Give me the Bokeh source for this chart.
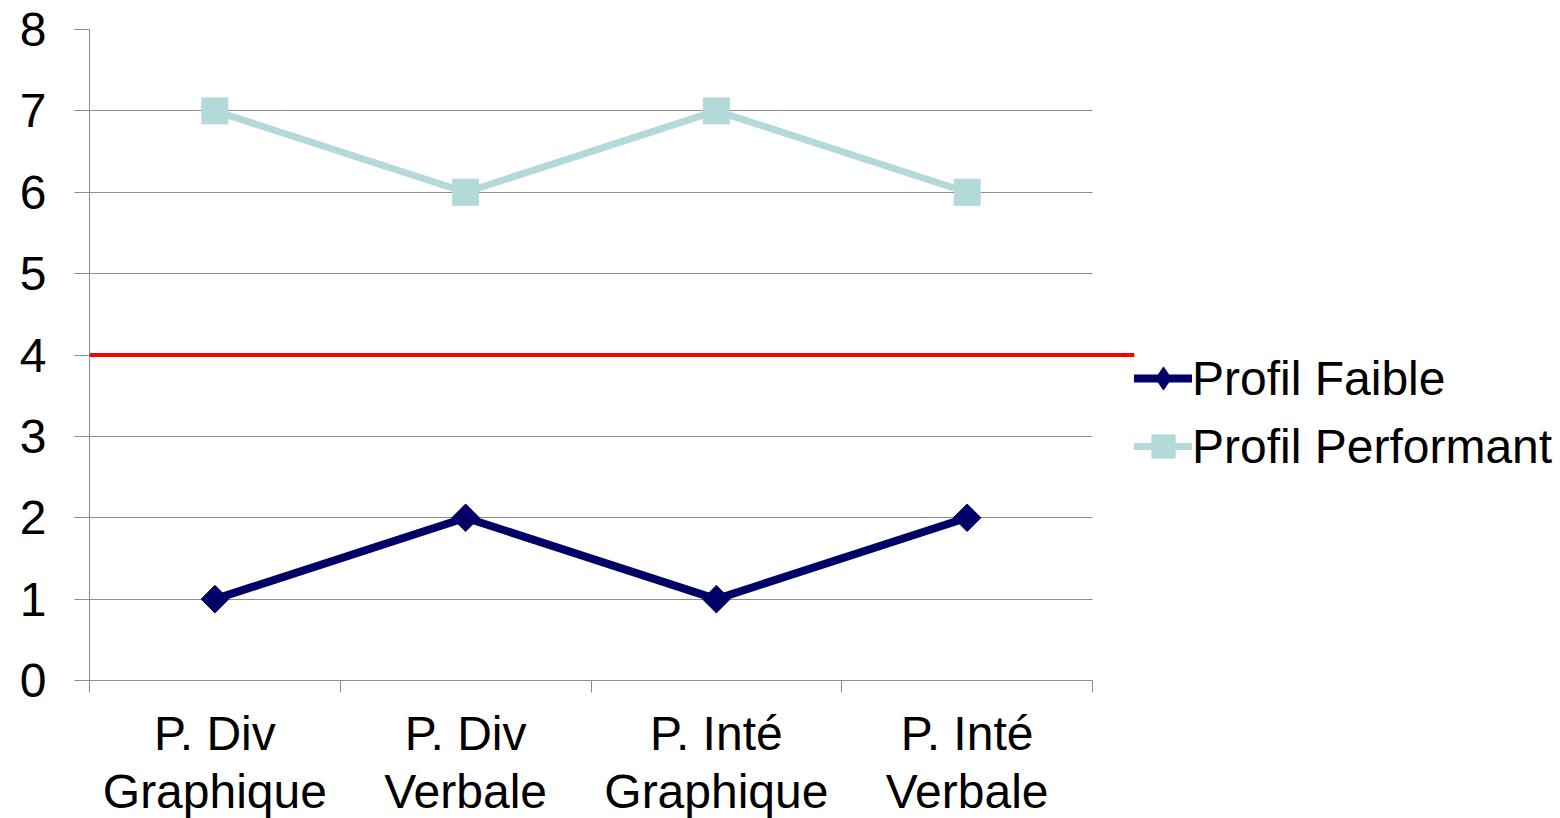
import math
from bokeh.plotting import figure
from bokeh.models import Range1d, FixedTicker, Span, BoxAnnotation, Legend, LegendItem
from bokeh.embed import file_html
from bokeh.resources import INLINE

# ---- data ----
categories = ["P. Div\nGraphique", "P. Div\nVerbale", "P. Inté\nGraphique", "P. Inté\nVerbale"]
profil_faible = [1, 2, 1, 2]
profil_performant = [7, 6, 7, 6]
threshold = 4
y_ticks = [0, 1, 2, 3, 4, 5, 6, 7, 8]
series_names = ["Profil Faible", "Profil Performant"]

# ---- styling ----
NAVY = "#000066"
TEAL = "#b3d9d9"
GRID = "#8c8c8c"
FONT = "Liberation Sans"
FS = "48px"

n = len(categories)
xs = [i + 0.5 for i in range(n)]

FRAME_W = 1045
FRAME_H = 651
CAT_W = 1003  # width of the categorical area in px

p = figure(
    frame_width=FRAME_W, frame_height=FRAME_H,
    x_range=Range1d(0, n * FRAME_W / CAT_W), y_range=Range1d(y_ticks[0], y_ticks[-1]),
    output_backend="svg", toolbar_location=None,
    min_border_left=89, min_border_top=29, min_border_bottom=110, min_border_right=0,
    background_fill_color="white", border_fill_color="white",
)
p.outline_line_color = None

# grid
p.xgrid.visible = False
p.ygrid.ticker = FixedTicker(ticks=y_ticks)
p.ygrid.grid_line_color = GRID
p.ygrid.grid_line_width = 1

# cover grid beyond the last category
cover = BoxAnnotation(left=n, fill_color="white", fill_alpha=1.0, line_alpha=0, level="underlay")
p.add_layout(cover)

# y axis
ya = p.yaxis[0]
ya.ticker = FixedTicker(ticks=y_ticks)
ya.axis_line_color = GRID
ya.major_tick_line_color = GRID
ya.major_tick_out = 15
ya.major_tick_in = 0
ya.minor_tick_line_color = None
ya.major_label_text_font = FONT
ya.major_label_text_font_size = FS
ya.major_label_text_color = "black"
ya.major_label_standoff = 28

# x axis
xa = p.xaxis[0]
xa.ticker = FixedTicker(ticks=xs, minor_ticks=list(range(n + 1)))
xa.bounds = (0, n)
xa.axis_line_color = GRID
xa.major_tick_out = 0
xa.major_tick_in = 0
xa.major_tick_line_color = None
xa.minor_tick_out = 12
xa.minor_tick_in = 0
xa.minor_tick_line_color = GRID
xa.major_label_overrides = {x: c for x, c in zip(xs, categories)}
xa.major_label_text_font = FONT
xa.major_label_text_font_size = FS
xa.major_label_text_color = "black"
xa.major_label_text_line_height = 1.1
xa.major_label_standoff = 14

# threshold line
p.add_layout(Span(location=threshold, dimension="width", line_color="#ff0000", line_width=4))

# series
lf = p.line(xs, profil_faible, line_color=NAVY, line_width=8, line_cap="round", line_join="round")
df = p.scatter(xs, profil_faible, marker="diamond", size=19, fill_color=NAVY, line_color=NAVY)
mf = p.scatter(xs, profil_faible, marker="square", angle=math.pi / 4, size=19.5,
               fill_color=NAVY, line_color=NAVY)
lp = p.line(xs, profil_performant, line_color=TEAL, line_width=7, line_cap="round", line_join="round")
mp = p.scatter(xs, profil_performant, marker="square", size=26, fill_color=TEAL, line_color=TEAL)

legend = Legend(
    items=[LegendItem(label=series_names[0], renderers=[lf, df]),
           LegendItem(label=series_names[1], renderers=[lp, mp])],
    location=(0, 202), orientation="vertical",
    glyph_width=58, glyph_height=64, label_standoff=0, spacing=4,
    padding=0, margin=0, border_line_color=None, background_fill_alpha=0,
    label_text_font=FONT, label_text_font_size=FS, label_text_color="black",
)
p.add_layout(legend, "right")

open("out.html", "w").write(file_html(p, INLINE))
